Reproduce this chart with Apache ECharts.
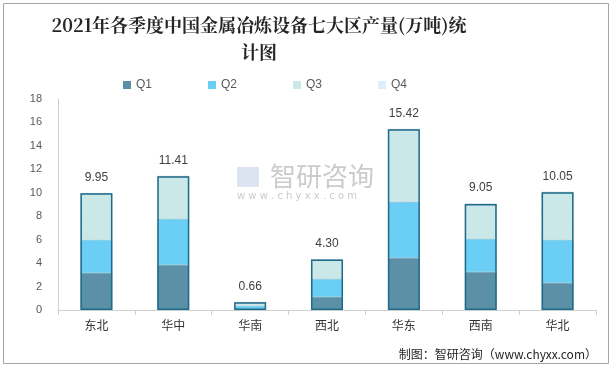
<!DOCTYPE html>
<html><head><meta charset="utf-8">
<script src="https://cdn.jsdelivr.net/npm/echarts@6/dist/echarts.min.js"></script>
<style>html,body{margin:0;padding:0;background:#fff}#c{width:613px;height:370px}</style>
</head><body><div id="c"></div>
<script>
const categories = ['东北','华中','华南','西北','华东','西南','华北'];
const q1 = [3.16, 3.84, 0.05, 1.11, 4.44, 3.24, 2.30];
const q2 = [2.81, 3.92, 0.29, 1.53, 4.77, 2.82, 3.67];
const q3 = [3.98, 3.65, 0.32, 1.66, 6.21, 2.99, 4.08];
const q4 = [0, 0, 0, 0, 0, 0, 0];
const totals = [9.95, 11.41, 0.66, 4.30, 15.42, 9.05, 10.05];
const seriesNames = ['Q1','Q2','Q3','Q4'];
const yTicks = [0,2,4,6,8,10,12,14,16,18];

const colors = ['#5B90A6','#6BCFF5','#CAE8E8','#DDEFF8'];
const chart = echarts.init(document.getElementById('c'));
const seg = (name, data, i) => ({
  name, type:'bar', stack:'s', data, barWidth:32,
  itemStyle:{color:colors[i], borderColor:'rgba(60,110,130,0.35)', borderWidth:0.5, borderType:'dashed'},
  silent:true
});
chart.setOption({
  animation:false,
  color: colors,
  grid:{left:58,right:17,top:99,bottom:60},
  legend:{data:seriesNames, left:118, top:74, itemWidth:8, itemHeight:8, itemGap:56,
    icon:'rect', itemStyle:{borderWidth:0},
    textStyle:{color:'#595959', fontSize:12, fontFamily:'Liberation Sans, Arial'}},
  xAxis:{type:'category', data:categories,
    axisLine:{lineStyle:{color:'#d0d0d0'}}, axisTick:{show:true, length:5, lineStyle:{color:'#d0d0d0'}},
    axisLabel:{color:'#333', fontSize:12, margin:9, fontFamily:'Noto Sans CJK SC'}},
  yAxis:{type:'value', min:0, max:18, interval:2,
    axisLine:{show:true, lineStyle:{color:'#d0d0d0'}}, axisTick:{show:false}, splitLine:{show:false},
    axisLabel:{color:'#595959', fontSize:11, margin:16, fontFamily:'Liberation Sans, Arial',
      formatter:v => yTicks.includes(v) ? String(v) : ''}},
  series:[
    seg('Q1', q1, 0), seg('Q2', q2, 1), seg('Q3', q3, 2), seg('Q4', q4, 3),
    {name:'total', type:'bar', data:totals, barWidth:32, barGap:'-100%', z:5,
     itemStyle:{color:'rgba(0,0,0,0)', borderColor:'#1F6B8A', borderWidth:1.5},
     label:{show:true, position:'top', distance:10, color:'#404040', fontSize:12,
       fontFamily:'Liberation Sans, Arial', formatter:p => p.value.toFixed(2)}}
  ],
  graphic:[
    {type:'rect', shape:{x:3.5,y:3.5,width:605,height:360}, style:{fill:'none', stroke:'#a6a6a6', lineWidth:1}, z:-1},
    {type:'text', x:259, y:12, style:{text:'2021年各季度中国金属冶炼设备七大区产量(万吨)统\n计图', textAlign:'center',
      font:'bold 18px "Noto Serif CJK SC", "Noto Sans CJK SC", serif', fill:'#262626', lineHeight:27}},
    {type:'text', x:270, y:163, z:0, style:{text:'智研咨询', font:'26px "Noto Sans CJK SC"', fill:'rgba(160,160,160,0.55)'}},
    {type:'text', x:237, y:191, z:0, style:{text:'w w w . c h y x x . c o m', font:'10px "DejaVu Sans"', fill:'rgba(160,160,160,0.55)'}},
    {type:'rect', shape:{x:237,y:167,width:22,height:20}, style:{fill:'rgba(180,195,225,0.45)'}, z:0},
    {type:'text', right:16, y:348, style:{text:'制图：智研咨询（www.chyxx.com）', font:'12px "Noto Sans CJK SC"', fill:'#262626'}}
  ]
});
</script></body></html>
